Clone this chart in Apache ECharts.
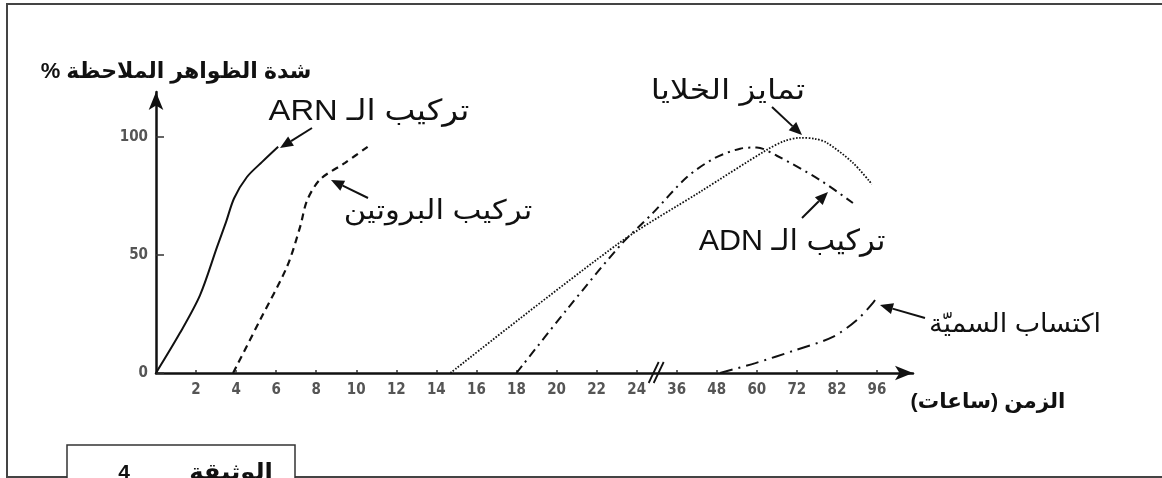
<!DOCTYPE html>
<html>
<head>
<meta charset="utf-8">
<script src="https://cdn.jsdelivr.net/npm/echarts@6/dist/echarts.min.js"></script>
<style>
html,body{margin:0;padding:0;background:#fff;}
#c{width:1162px;height:478px;}
</style>
</head>
<body>
<div id="c" dir="rtl"></div>
<script>
// ---- tick scale (broken time axis) ----
const tickHours = [0,2,4,6,8,10,12,14,16,18,20,22,24,36,48,60,72,82,96];
const tickLabels = ['','2','4','6','8','10','12','14','16','18','20','22','24','36','48','60','72','82','96'];
const yTicks = [0,50,100];

// ---- series (hours, intensity %) ----
const arnHours   = [0,1.2,2.2,3.05,3.5,3.9,4.54,5.3,6.1];
const arnValues  = [0,17,33,53.4,64,74,83,89.4,95.8];

const protHours  = [3.85,5.2,6.54,7.2,7.54,8.2,9.44,10.6];
const protValues = [0,22.5,45,62,73,82,89,96];

const adnHours   = [18,20.5,23.2,28.9,39.1,47.4,55,60,66,77.7,87.6];
const adnValues  = [0,26.7,54.2,67.8,83,91,95,95.5,92,81.8,72];

const diffHours  = [14.7,23.2,43,63,68.4,72.8,76.5,79.5,87.6,94.2];
const diffValues = [0,55.5,76.7,94.5,98.3,99.6,99.2,97.5,89,80];

const toxHours   = [49,59.6,71.6,81,89,94.6,96.3];
const toxValues  = [0,4.2,9.7,15.3,22.5,29.7,33];

function hourToPos(h){
  for(let i=0;i<tickHours.length-1;i++){
    if(h<=tickHours[i+1]) return i+(h-tickHours[i])/(tickHours[i+1]-tickHours[i]);
  }
  const n=tickHours.length-1;
  return n+(h-tickHours[n])/(tickHours[n]-tickHours[n-1]);
}
function pts(hs,vs){return hs.map((h,i)=>[hourToPos(h),vs[i]]);}

const chart = echarts.init(document.getElementById('c'));
const ink = '#111';
const fam = 'Liberation Sans, DejaVu Sans, sans-serif';
const tickIdx = tickHours.map((_,i)=>i).slice(1);
const tickFont = 'DejaVu Sans Condensed, DejaVu Sans';

function mk(name,data,type,width,smooth){
  return {name,type:'line',data,showSymbol:false,smooth:smooth,
    lineStyle:{color:ink,width:width,type:type},silent:true,animation:false};
}

chart.setOption({
  animation:false,
  grid:{left:156,top:92,width:757,height:281,containLabel:false},
  xAxis:{type:'value',min:0,max:18.9,
    axisLine:{onZero:false,symbol:['none','arrow'],symbolSize:[11,18],lineStyle:{color:ink,width:2.5}},
    axisTick:{inside:true,length:3,customValues:tickIdx,lineStyle:{color:'#333',width:1.5}},
    axisLabel:{customValues:tickIdx,margin:10,fontSize:15,fontWeight:'bold',color:'#555',fontFamily:tickFont,
      formatter:v=>tickLabels[Math.round(v)]},
    splitLine:{show:false}},
  yAxis:{type:'value',min:0,max:119,
    axisLine:{symbol:['none','arrow'],symbolSize:[11,18],lineStyle:{color:ink,width:2.5}},
    axisTick:{inside:true,length:8,customValues:yTicks,lineStyle:{color:'#333',width:1.5}},
    axisLabel:{customValues:yTicks,margin:8,fontSize:15,fontWeight:'bold',color:'#555',fontFamily:tickFont},
    splitLine:{show:false}},
  series:[
    mk('ARN',pts(arnHours,arnValues),'solid',2,0.3),
    mk('Protein',pts(protHours,protValues),[7,5],2.2,0.3),
    mk('ADN',pts(adnHours,adnValues),[9,5,2,5],2,0.3),
    mk('Diff',pts(diffHours,diffValues),[1.6,1.6],1.8,0.3),
    mk('Tox',pts(toxHours,toxValues),[13,6,2,6],2,0.3)
  ]
});

function arrow(x1,y1,x2,y2){
  const a=Math.atan2(y2-y1,x2-x1), L=13, W=5.5;
  const bx=x2-L*Math.cos(a), by=y2-L*Math.sin(a);
  return [
    {type:'line',shape:{x1,y1,x2:bx,y2:by},style:{stroke:ink,lineWidth:2},silent:true},
    {type:'polygon',shape:{points:[[x2,y2],[bx-W*Math.sin(a),by+W*Math.cos(a)],[bx+W*Math.sin(a),by-W*Math.cos(a)]]},style:{fill:ink},silent:true}
  ];
}
function txt(t,x,y,size,bold,sx){
  return {type:'text',x:x,y:y,scaleX:sx||1,silent:true,
    style:{text:t,fill:ink,font:(bold?'bold ':'')+size+'px '+fam,textAlign:'center',textVerticalAlign:'middle'}};
}

const bp = chart.convertToPixel({xAxisIndex:0,yAxisIndex:0},[12.5,0]);
const g = [
  {type:'rect',shape:{x:7,y:4,width:1180,height:473},style:{fill:null,stroke:'#444',lineWidth:2},silent:true},
  {type:'rect',shape:{x:67,y:445,width:228,height:60},style:{fill:'#fff',stroke:'#333',lineWidth:1.5},silent:true},
  txt('الوثيقة',231,473,22,true,1.1),
  txt('4',124,473,21,true),
  txt('شدة الظواهر الملاحظة %',176,72,22,true,1.0),
  txt('الزمن (ساعات)',988,402,21,true,1.02),
  txt('تركيب الـ ARN',369,112,29,false,1.13),
  txt('تركيب البروتين',438,212,27,false,1.14),
  txt('تمايز الخلايا',728,91,28,false,1.18),
  txt('تركيب الـ ADN',792,242,29,false,1.05),
  txt('اكتساب السميّة',1015,325,26,false,1.04),
  {type:'line',shape:{x1:bp[0]-8,y1:bp[1]+10,x2:bp[0]+2,y2:bp[1]-11},style:{stroke:ink,lineWidth:1.8},silent:true},
  {type:'line',shape:{x1:bp[0]-3,y1:bp[1]+10,x2:bp[0]+7,y2:bp[1]-11},style:{stroke:ink,lineWidth:1.8},silent:true}
]
.concat(arrow(312,128,280,148))
.concat(arrow(368,198,331,180))
.concat(arrow(772,107,802,135))
.concat(arrow(802,218,828,192))
.concat(arrow(925,318,880,305));

chart.setOption({graphic:g});
</script>
</body>
</html>
